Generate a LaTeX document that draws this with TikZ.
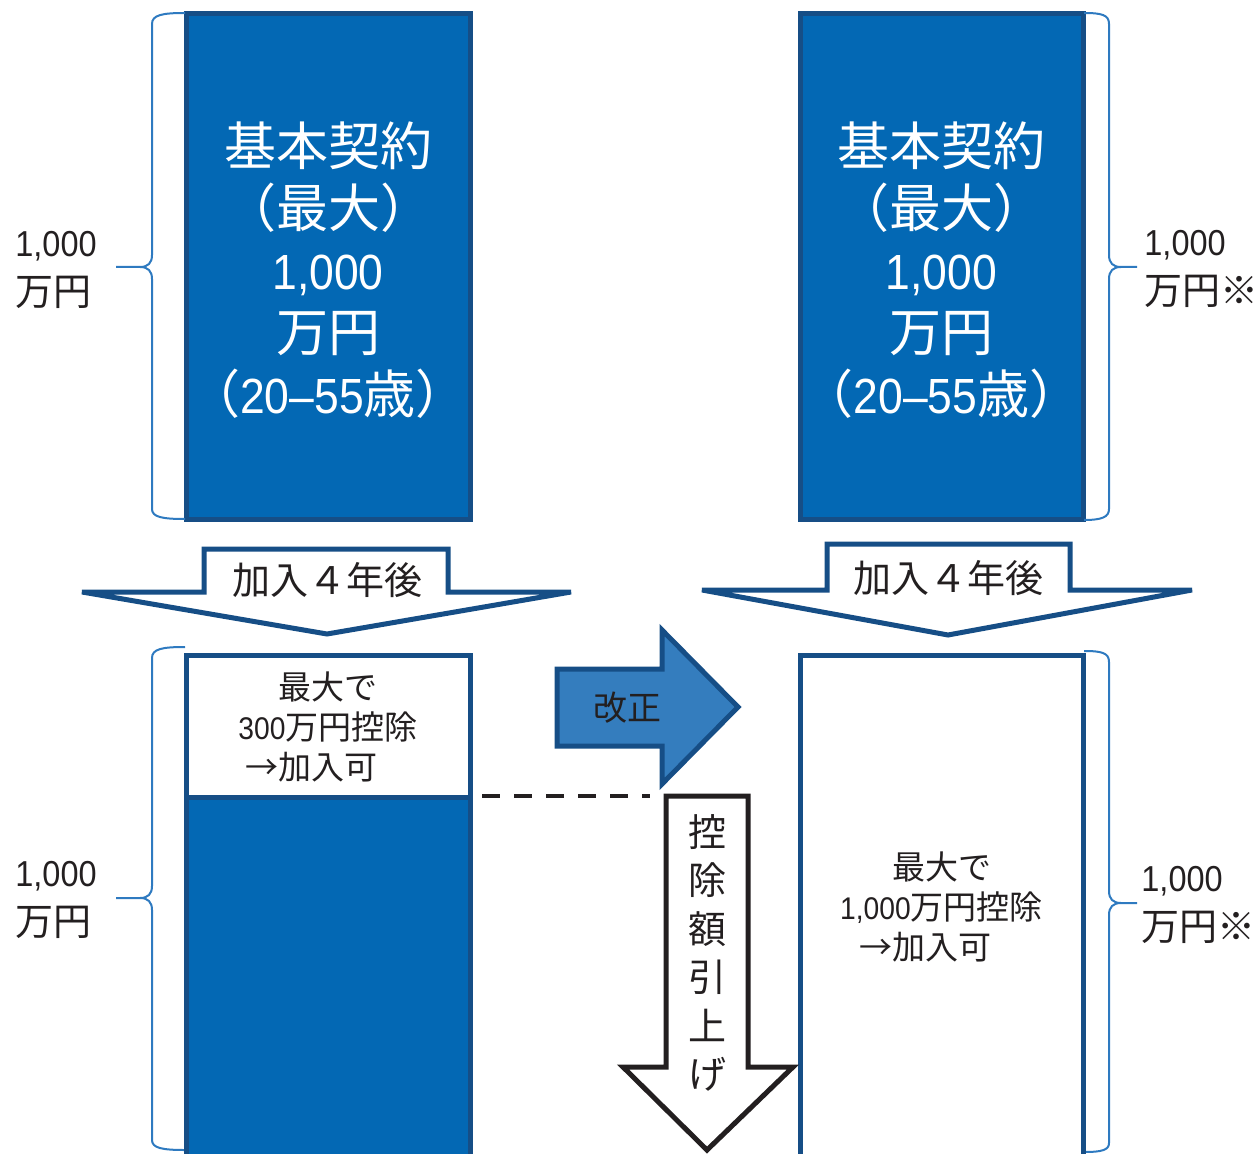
\documentclass[tikz,border=0pt]{standalone}
\usepackage{fontspec}
\usepackage{graphicx}
\setmainfont{Noto Sans CJK JP}
\newfontfamily\numf[Scale=0.95]{Liberation Sans}
\newcommand{\numtxt}[1]{\scalebox{0.9}[1]{\numf #1}}
\definecolor{boxblue}{RGB}{3,104,180}
\definecolor{edgeblue}{RGB}{22,78,134}
\definecolor{braceblue}{RGB}{46,122,192}
\definecolor{arrowblue}{RGB}{52,125,190}
\definecolor{txt}{RGB}{35,31,32}
\tikzset{
  bluebox/.style={draw=edgeblue, fill=boxblue, line width=2.5pt, inner sep=0pt},
  whitebox/.style={draw=edgeblue, fill=white, line width=2.5pt, inner sep=0pt},
  bigtext/.style={text=white, align=center, inner sep=0pt, font=\fontsize{26}{31}\selectfont},
  brc/.style={draw=braceblue, line width=1pt},
  sidelbl/.style={text=txt, align=left, inner sep=0pt, anchor=west, font=\fontsize{19}{24.5}\selectfont},
  boxtext/.style={text=txt, align=center, inner sep=0pt, font=\fontsize{16.5}{20}\selectfont},
  afterarrow/.style={draw=edgeblue, fill=white, line width=2.5pt, line join=miter},
  aftertext/.style={text=txt, inner sep=0pt, font=\fontsize{19}{23}\selectfont},
  revarrow/.style={draw=edgeblue, fill=arrowblue, line width=2.5pt, line join=miter},
  raisearrow/.style={draw=txt, fill=white, line width=2.5pt, line join=miter},
  dashline/.style={draw=txt, line width=2pt, dash pattern=on 9pt off 7pt},
}
\begin{document}
\begin{tikzpicture}[x=0.5pt,y=-0.5pt]
\useasboundingbox (0,0) rectangle (1256,1154);

% ---------- top boxes ----------
\node[bluebox, minimum width=142pt, minimum height=252.5pt] (topL) at (328,266.5) {};
\node[bluebox, minimum width=141.5pt, minimum height=252.5pt] (topR) at (941.5,266.5) {};
\node[bigtext] (topLtxt) at (328,270) {基本契約\\（最大）\\\numtxt{1,000}\\万円\\（\numtxt{20–55}歳）};
\node[bigtext] (topRtxt) at (941.5,270) {基本契約\\（最大）\\\numtxt{1,000}\\万円\\（\numtxt{20–55}歳）};

% ---------- braces ----------
\draw[brc] (185,13) .. controls (162,13) and (152,15) .. (152,24) -- (152,255)
  .. controls (152,263) and (148,267) .. (140,267) -- (116,267) -- (140,267)
  .. controls (148,267) and (152,271) .. (152,279) -- (152,509)
  .. controls (152,517) and (162,519) .. (185,519);
\draw[brc] (185,647) .. controls (162,647) and (152,649) .. (152,658) -- (152,886)
  .. controls (152,894) and (148,898) .. (140,898) -- (116,898) -- (140,898)
  .. controls (148,898) and (152,902) .. (152,910) -- (152,1140)
  .. controls (152,1148) and (162,1150) .. (185,1150);
\draw[brc] (1084,13) .. controls (1102,13) and (1109,15) .. (1109,24) -- (1109,255)
  .. controls (1109,263) and (1113,267) .. (1121,267) -- (1137,267) -- (1121,267)
  .. controls (1113,267) and (1109,271) .. (1109,279) -- (1109,509)
  .. controls (1109,517) and (1102,520) .. (1084,520);
\draw[brc] (1084,651) .. controls (1102,651) and (1109,653) .. (1109,662) -- (1109,891)
  .. controls (1109,899) and (1113,903) .. (1121,903) -- (1137,903) -- (1121,903)
  .. controls (1113,903) and (1109,907) .. (1109,915) -- (1109,1143)
  .. controls (1109,1150) and (1102,1152) .. (1084,1152);

\node[sidelbl] (lblTL) at (15,270) {\numtxt{1,000}\\万円};
\node[sidelbl] (lblBL) at (15,900) {\numtxt{1,000}\\万円};
\node[sidelbl] (lblTR) at (1144,269) {\numtxt{1,000}\\万円※};
\node[sidelbl] (lblBR) at (1141,905) {\numtxt{1,000}\\万円※};

% ---------- "加入4年後" arrows ----------
\draw[afterarrow] (82,592) -- (204,592) -- (204,549) -- (448,549) -- (448,592)
  -- (571,592) -- (327,634) -- cycle;
\node[aftertext] (afterL) at (327,580) {加入４年後};
\draw[afterarrow] (702,590) -- (827,590) -- (827,544) -- (1070,544) -- (1070,590)
  -- (1192,590) -- (948,635) -- cycle;
\node[aftertext] (afterR) at (948,578) {加入４年後};

% ---------- bottom boxes ----------
\node[whitebox, minimum width=142pt, minimum height=255pt] (lowL) at (328,910) {};
\node[bluebox, minimum width=142pt, minimum height=184pt] (lowLfill) at (328,981) {};
\node[boxtext] (lowLtxt) at (328,727) {最大で\\\numtxt{300}万円控除\\→加入可\hspace*{1em}};
\node[whitebox, minimum width=141.5pt, minimum height=255pt] (lowR) at (941.5,910) {};
\node[boxtext] (lowRtxt) at (941.5,907) {最大で\\\numtxt{1,000}万円控除\\→加入可\hspace*{1em}};

% ---------- 改正 arrow ----------
\draw[revarrow] (557,669) -- (662,669) -- (662,630) -- (738,707) -- (662,784)
  -- (662,746) -- (557,746) -- cycle;
\node[text=txt, inner sep=0pt, font=\fontsize{17}{20}\selectfont] (kaisei) at (627,708) {改正};

% ---------- dashed line ----------
\coordinate (dashA) at (482,796);
\coordinate (dashB) at (650,796);
\draw[dashline] (dashA) -- (dashB);

% ---------- 控除額引上げ arrow ----------
\draw[raisearrow] (666,796) -- (748,796) -- (748,1067) -- (793,1067) -- (707,1150)
  -- (623,1067) -- (666,1067) -- cycle;
\node[text=txt, align=center, inner sep=0pt, font=\fontsize{19}{24.2}\selectfont] (raisetxt) at (707,953) {控\\除\\額\\引\\上\\げ};

\end{tikzpicture}
\end{document}
